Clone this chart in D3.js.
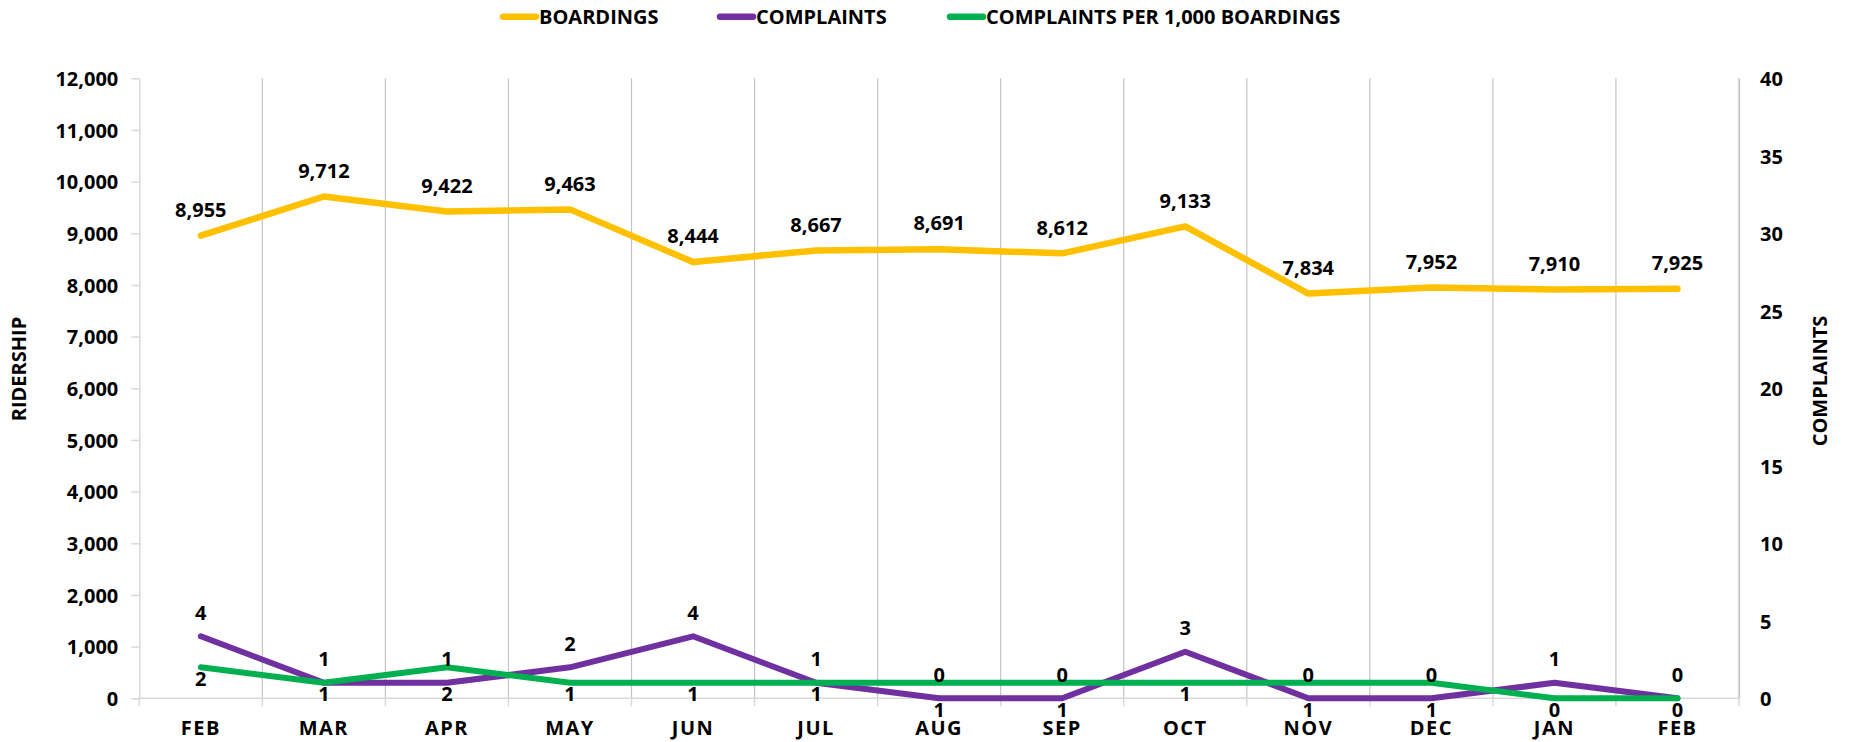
<!DOCTYPE html>
<html>
<head>
<meta charset="utf-8">
<script src="https://cdn.jsdelivr.net/npm/d3@7"></script>
<style>
  html, body { margin: 0; padding: 0; background: #fff; }
  svg { display: block; }
  text { font-family: "Open Sans", "Liberation Sans", sans-serif; font-weight: 700; fill: #000; }
</style>
</head>
<body>
<svg id="chart" width="1849" height="742"></svg>
<script>
const months = ["FEB","MAR","APR","MAY","JUN","JUL","AUG","SEP","OCT","NOV","DEC","JAN","FEB"];
const boardings = [8955, 9712, 9422, 9463, 8444, 8667, 8691, 8612, 9133, 7834, 7952, 7910, 7925];
const complaints = [4, 1, 1, 2, 4, 1, 0, 0, 3, 0, 0, 1, 0];
const complaintsPer1000 = [2, 1, 2, 1, 1, 1, 1, 1, 1, 1, 1, 0, 0];
const leftTicks = [0, 1000, 2000, 3000, 4000, 5000, 6000, 7000, 8000, 9000, 10000, 11000, 12000];
const rightTicks = [0, 5, 10, 15, 20, 25, 30, 35, 40];
const seriesNames = ["BOARDINGS", "COMPLAINTS", "COMPLAINTS PER 1,000 BOARDINGS"];
const seriesColors = ["#FFC000", "#7030A0", "#00B050"];

(function () {
const svg = d3.select("#chart");
const pLeft = 139.3, pRight = 1739, pTop = 78.3, pBottom = 698.3;
const FS = 20;

const idx = months.map((d, i) => i);
const x = d3.scaleBand().domain(idx).range([pLeft, pRight]).padding(0);
const cx = i => x(i) + x.bandwidth() / 2;
const yL = d3.scaleLinear().domain([0, 12000]).range([pBottom, pTop]);
const yR = d3.scaleLinear().domain([0, 40]).range([pBottom, pTop]);

// vertical gridlines at category boundaries
const bounds = idx.map(i => x(i)).concat([x.range()[1]]);
svg.append("g").selectAll("line").data(bounds.slice(1)).join("line")
  .attr("x1", d => d).attr("x2", d => d)
  .attr("y1", pTop).attr("y2", pBottom)
  .attr("stroke", "#c4c4c4").attr("stroke-width", 1.2);

// bottom axis line + ticks
svg.append("line").attr("x1", pLeft).attr("x2", pRight).attr("y1", pBottom).attr("y2", pBottom)
  .attr("stroke", "#d9d9d9").attr("stroke-width", 1.5);
svg.append("g").selectAll("line").data(bounds).join("line")
  .attr("x1", d => d).attr("x2", d => d)
  .attr("y1", pBottom).attr("y2", pBottom + 8)
  .attr("stroke", "#d9d9d9").attr("stroke-width", 1.5);

// category labels
const xAxis = svg.append("g").attr("transform", `translate(0,${pBottom})`)
  .call(d3.axisBottom(x).tickSize(0).tickPadding(0).tickFormat(i => months[i]));
xAxis.select(".domain").remove();
xAxis.selectAll("text").attr("font-size", FS).attr("y", 37).attr("dy", 0)
  .style("font-family", "'Open Sans', sans-serif").style("font-weight", 700).attr("fill", "#000")
  .attr("letter-spacing", 1.5);

// left axis
const gL = svg.append("g").attr("transform", `translate(${pLeft},0)`)
  .call(d3.axisLeft(yL).tickValues(leftTicks).tickSize(8).tickSizeOuter(0).tickPadding(13)
    .tickFormat(d3.format(",")));
gL.select(".domain").attr("stroke", "#d9d9d9").attr("stroke-width", 1.5);
gL.selectAll(".tick line").attr("stroke", "#d9d9d9").attr("stroke-width", 1.5);
gL.selectAll("text").attr("font-size", FS).attr("fill", "#000").attr("dy", "0.36em")
  .style("font-family", "'Open Sans', sans-serif").style("font-weight", 700);

// right axis
const gR = svg.append("g").attr("transform", `translate(${pRight},0)`)
  .call(d3.axisRight(yR).tickValues(rightTicks).tickSize(0).tickSizeOuter(0).tickPadding(21));
gR.select(".domain").attr("stroke", "#c4c4c4").attr("stroke-width", 1.2);
gR.selectAll("text").attr("font-size", FS).attr("fill", "#000").attr("dy", "0.36em")
  .style("font-family", "'Open Sans', sans-serif").style("font-weight", 700);

// axis titles
svg.append("text").attr("transform", "translate(25.5,369) rotate(-90)")
  .attr("text-anchor", "middle").attr("font-size", FS).text("RIDERSHIP");
svg.append("text").attr("transform", "translate(1827,381) rotate(-90)")
  .attr("text-anchor", "middle").attr("font-size", FS).text("COMPLAINTS");

// lines
const lineL = d3.line().x((d, i) => cx(i)).y(d => yL(d));
const lineR = d3.line().x((d, i) => cx(i)).y(d => yR(d));
svg.append("path").datum(boardings).attr("d", lineL)
  .attr("fill", "none").attr("stroke", seriesColors[0]).attr("stroke-width", 6.5)
  .attr("stroke-linecap", "round").attr("stroke-linejoin", "round");
svg.append("path").datum(complaints).attr("d", lineR)
  .attr("fill", "none").attr("stroke", seriesColors[1]).attr("stroke-width", 6)
  .attr("stroke-linecap", "round").attr("stroke-linejoin", "round");
svg.append("path").datum(complaintsPer1000).attr("d", lineR)
  .attr("fill", "none").attr("stroke", seriesColors[2]).attr("stroke-width", 6)
  .attr("stroke-linecap", "round").attr("stroke-linejoin", "round");

// data labels
const fmt = d3.format(",");
svg.append("g").selectAll("text").data(boardings).join("text")
  .attr("x", (d, i) => cx(i)).attr("y", d => yL(d) - 26).attr("dy", "0.36em")
  .attr("text-anchor", "middle").attr("font-size", FS).text(d => fmt(d));
svg.append("g").selectAll("text").data(complaints).join("text")
  .attr("x", (d, i) => cx(i)).attr("y", d => yR(d) - 24).attr("dy", "0.36em")
  .attr("text-anchor", "middle").attr("font-size", FS).text(d => d);
// per-1,000 labels sit below whichever of the two complaint lines is lower
svg.append("g").selectAll("text").data(complaintsPer1000).join("text")
  .attr("x", (d, i) => cx(i))
  .attr("y", (d, i) => Math.max(yR(d), yR(complaints[i])) + 11).attr("dy", "0.36em")
  .attr("text-anchor", "middle").attr("font-size", FS).text(d => d);

// legend
const legendX = [501, 718, 948];
const lg = svg.append("g");
seriesNames.forEach((name, i) => {
  const g = lg.append("g").attr("transform", `translate(${legendX[i]},16.7)`);
  g.append("line").attr("x1", 2).attr("x2", 35).attr("y1", 0).attr("y2", 0)
    .attr("stroke", seriesColors[i]).attr("stroke-width", 6.5).attr("stroke-linecap", "round");
  g.append("text").attr("x", 38).attr("y", 0).attr("dy", "0.36em")
    .attr("font-size", FS).text(name);
});
})();
</script>
</body>
</html>
